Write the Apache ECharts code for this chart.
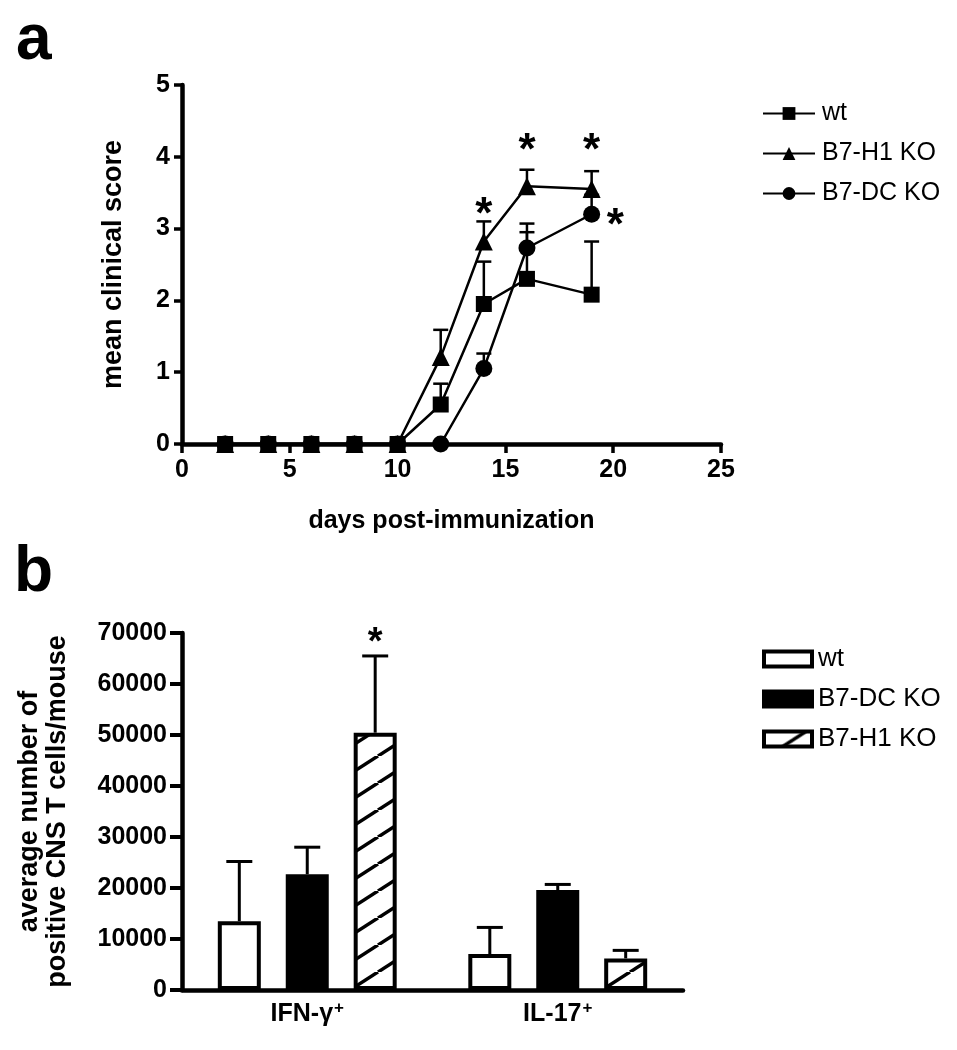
<!DOCTYPE html>
<html><head><meta charset="utf-8">
<script src="https://cdn.jsdelivr.net/npm/echarts@6/dist/echarts.min.js"></script>
<style>html,body{margin:0;padding:0;background:#fff}#c{width:957px;height:1050px}</style>
</head><body><div id="c"></div>
<script>
// ---------- Panel a data ----------
const days = [2, 4, 6, 8, 10, 12, 14, 16, 19];
const wtScore = [0, 0, 0, 0, 0, 0.55, 1.95, 2.30, 2.08];
const wtScoreUpper = [null, null, null, null, null, 0.84, 2.54, 2.95, 2.82];
const h1Score = [0, 0, 0, 0, 0, 1.21, 2.82, 3.59, 3.55];
const h1ScoreUpper = [null, null, null, null, null, 1.59, 3.10, 3.82, 3.80];
const dcScore = [0, 0, 0, 0, 0, 0, 1.05, 2.73, 3.20];
const dcScoreUpper = [null, null, null, null, null, null, 1.26, 3.07, 3.47];
const scoreSigX = [14, 16, 19, 20.1];
const scoreSigY = [3.32, 4.21, 4.21, 3.16];
const daysMin = 0, daysMax = 25, daysStep = 5;
const scoreMin = 0, scoreMax = 5, scoreStep = 1;

// ---------- Panel b data ----------
const cellCats = ['IFN-γ+', 'IL-17+'];
const wtCells = [13500, 7050];
const wtCellsUpper = [25200, 12270];
const dcCells = [22700, 19600];
const dcCellsUpper = [28000, 20700];
const h1Cells = [50450, 6200];
const h1CellsUpper = [65500, 7770];
const cellSigCat = [0];
const cellSigBar = [2];
const cellSigY = [69700];
const cellsMin = 0, cellsMax = 70000, cellsStep = 10000;

// ---------- styles ----------
const FONT = 'Liberation Sans, Arial, Helvetica, sans-serif';
const BAR_W = 43, BAR_GAP = 0.58;

function hatchCanvas() {
  const w = 42, h = 27;
  const cv = document.createElement('canvas');
  cv.width = w; cv.height = h;
  const g = cv.getContext('2d');
  g.fillStyle = '#fff'; g.fillRect(0, 0, w, h);
  g.strokeStyle = '#000'; g.lineWidth = 3.5;
  for (let k = -1; k <= 1; k++) {
    g.beginPath(); g.moveTo(k * w, h); g.lineTo(k * w + w, 0); g.stroke();
  }
  return cv;
}
const hatch = { image: hatchCanvas(), repeat: 'repeat' };

const zipPts = (xs, ys) => xs.map((x, i) => [x, ys[i]]);
const errPts = (xs, ys, ups) => xs.map((x, i) => ups[i] == null ? null : [x, ys[i], ups[i]]).filter(d => d);

function lineErr(params, api) {
  const c = api.coord([api.value(0), api.value(1)]);
  const t = api.coord([api.value(0), api.value(2)]);
  const hw = 7.5;
  return { type: 'group', children: [
    { type: 'line', shape: { x1: c[0], y1: c[1], x2: t[0], y2: t[1] }, style: { stroke: '#000', lineWidth: 2.5 } },
    { type: 'line', shape: { x1: t[0] - hw, y1: t[1], x2: t[0] + hw, y2: t[1] }, style: { stroke: '#000', lineWidth: 2.5 } }
  ]};
}
function barErrFactory(barIdx) {
  return function (params, api) {
    const off = (barIdx - 1) * BAR_W * (1 + BAR_GAP);
    const c = api.coord([api.value(0), api.value(1)]);
    const t = api.coord([api.value(0), api.value(2)]);
    const x = c[0] + off, hw = 13;
    return { type: 'group', children: [
      { type: 'line', shape: { x1: x, y1: c[1], x2: x, y2: t[1] }, style: { stroke: '#000', lineWidth: 3 } },
      { type: 'line', shape: { x1: x - hw, y1: t[1], x2: x + hw, y2: t[1] }, style: { stroke: '#000', lineWidth: 3 } }
    ]};
  };
}
function starA(params, api) {
  const p = api.coord([api.value(0), api.value(1)]);
  const fs = 44;
  return { type: 'text', x: p[0], y: p[1] + 0.23 * fs, style: { text: '*', font: 'bold ' + fs + 'px ' + FONT, fill: '#000', align: 'center', verticalAlign: 'middle' } };
}
function starB(params, api) {
  const p = api.coord([api.value(0), api.value(2)]);
  const off = (api.value(1) - 1) * BAR_W * (1 + BAR_GAP);
  const fs = 38;
  return { type: 'text', x: p[0] + off, y: p[1] + 0.23 * fs, style: { text: '*', font: 'bold ' + fs + 'px ' + FONT, fill: '#000', align: 'center', verticalAlign: 'middle' } };
}

const axisLabelStyle = { color: '#000', fontFamily: FONT, fontWeight: 'bold', fontSize: 25 };
const xNameStyle = { color: '#000', fontFamily: FONT, fontWeight: 'bold', fontSize: 25 };
const yNameStyle = { color: '#000', fontFamily: FONT, fontWeight: 'bold', fontSize: 27 };
const axisLine = { show: true, lineStyle: { color: '#000', width: 4.5 } };

const chart = echarts.init(document.getElementById('c'), null, { renderer: 'canvas' });
chart.setOption({
  backgroundColor: '#fff',
  animation: false,
  graphic: [
    { type: 'text', left: 16, top: 9, style: { text: 'a', font: 'bold 64px ' + FONT, fill: '#000' } },
    { type: 'text', left: 14, top: 541, style: { text: 'b', font: 'bold 64px ' + FONT, fill: '#000' } }
  ],
  legend: [
    {
      data: ['wt', 'B7-H1 KO', 'B7-DC KO'],
      left: 757, top: 96, orient: 'vertical', itemGap: 15,
      itemWidth: 52, itemHeight: 16,
      textStyle: { color: '#000', fontFamily: FONT, fontSize: 25, padding: [0, 0, 0, 2] },
      selectedMode: false
    },
    {
      data: ['wt (b)', 'B7-DC KO (b)', 'B7-H1 KO (b)'],
      formatter: n => n.replace(' (b)', ''),
      icon: 'rect',
      left: 757, top: 641, orient: 'vertical', itemGap: 14,
      itemWidth: 48, itemHeight: 15,
      itemStyle: { borderColor: '#000', borderWidth: 4 },
      textStyle: { color: '#000', fontFamily: FONT, fontSize: 26, padding: [0, 0, 0, 1] },
      selectedMode: false
    }
  ],
  grid: [
    { left: 182, top: 85, width: 539, height: 359 },
    { left: 182, top: 633, width: 501, height: 357 }
  ],
  xAxis: [
    {
      gridIndex: 0, type: 'value', min: daysMin, max: daysMax, interval: daysStep,
      name: 'days post-immunization', nameLocation: 'middle', nameGap: 65, nameTextStyle: xNameStyle,
      axisLine: axisLine, axisTick: { show: true, length: 9, lineStyle: { color: '#000', width: 3.5 } },
      axisLabel: Object.assign({ margin: 14 }, axisLabelStyle), splitLine: { show: false }
    },
    {
      gridIndex: 1, type: 'category', data: cellCats,
      axisLine: axisLine, axisTick: { show: false },
      axisLabel: Object.assign({
        margin: 10,
        formatter: v => '{m|' + v.slice(0, -1) + '}{s|' + v.slice(-1) + '}',
        rich: {
          m: { color: '#000', fontFamily: FONT, fontWeight: 'bold', fontSize: 25, lineHeight: 28 },
          s: { color: '#000', fontFamily: FONT, fontWeight: 'bold', fontSize: 17, lineHeight: 28, verticalAlign: 'top', padding: [0, 0, 14, 1] }
        }
      }, axisLabelStyle), splitLine: { show: false }
    }
  ],
  yAxis: [
    {
      gridIndex: 0, type: 'value', min: scoreMin, max: scoreMax, interval: scoreStep,
      name: 'mean clinical score', nameLocation: 'middle', nameGap: 55, nameTextStyle: yNameStyle,
      axisLine: axisLine, axisTick: { show: true, length: 8, lineStyle: { color: '#000', width: 3.5 } },
      axisLabel: Object.assign({ margin: 12 }, axisLabelStyle), splitLine: { show: false }
    },
    {
      gridIndex: 1, type: 'value', min: cellsMin, max: cellsMax, interval: cellsStep,
      name: 'average number of\npositive CNS T cells/mouse', nameLocation: 'middle', nameGap: 110,
      nameTextStyle: Object.assign({ lineHeight: 28 }, yNameStyle),
      axisLine: axisLine, axisTick: { show: true, length: 12, lineStyle: { color: '#000', width: 4 } },
      axisLabel: Object.assign({ margin: 15, formatter: v => String(v) }, axisLabelStyle), splitLine: { show: false }
    }
  ],
  series: [
    // error bars panel a (drawn under markers)
    { type: 'custom', xAxisIndex: 0, yAxisIndex: 0, z: 1, renderItem: lineErr, data: errPts(days, wtScore, wtScoreUpper), encode: { x: 0, y: [1, 2] } },
    { type: 'custom', xAxisIndex: 0, yAxisIndex: 0, z: 1, renderItem: lineErr, data: errPts(days, h1Score, h1ScoreUpper), encode: { x: 0, y: [1, 2] } },
    { type: 'custom', xAxisIndex: 0, yAxisIndex: 0, z: 1, renderItem: lineErr, data: errPts(days, dcScore, dcScoreUpper), encode: { x: 0, y: [1, 2] } },
    { name: 'B7-DC KO', type: 'line', xAxisIndex: 0, yAxisIndex: 0, z: 3, data: zipPts(days, dcScore),
      symbol: 'circle', symbolSize: 17, showAllSymbol: true,
      lineStyle: { color: '#000', width: 2.5 }, itemStyle: { color: '#000' } },
    { name: 'B7-H1 KO', type: 'line', xAxisIndex: 0, yAxisIndex: 0, z: 4, data: zipPts(days, h1Score),
      symbol: 'triangle', symbolSize: 18, showAllSymbol: true,
      lineStyle: { color: '#000', width: 2.5 }, itemStyle: { color: '#000' } },
    { name: 'wt', type: 'line', xAxisIndex: 0, yAxisIndex: 0, z: 5, data: zipPts(days, wtScore),
      symbol: 'rect', symbolSize: 16, showAllSymbol: true,
      lineStyle: { color: '#000', width: 2.5 }, itemStyle: { color: '#000' } },
    { type: 'custom', xAxisIndex: 0, yAxisIndex: 0, z: 6, renderItem: starA, data: zipPts(scoreSigX, scoreSigY), encode: { x: 0, y: 1 } },

    // panel b bars
    { name: 'wt (b)', type: 'bar', xAxisIndex: 1, yAxisIndex: 1, data: wtCells, barWidth: BAR_W, barGap: (BAR_GAP * 100) + '%',
      itemStyle: { color: '#fff', borderColor: '#000', borderWidth: 4 } },
    { name: 'B7-DC KO (b)', type: 'bar', xAxisIndex: 1, yAxisIndex: 1, data: dcCells, barWidth: BAR_W, barGap: (BAR_GAP * 100) + '%',
      itemStyle: { color: '#000', borderColor: '#000', borderWidth: 4 } },
    { name: 'B7-H1 KO (b)', type: 'bar', xAxisIndex: 1, yAxisIndex: 1, data: h1Cells, barWidth: BAR_W, barGap: (BAR_GAP * 100) + '%',
      itemStyle: { color: hatch, borderColor: '#000', borderWidth: 4 } },
    { type: 'custom', xAxisIndex: 1, yAxisIndex: 1, z: 3, renderItem: barErrFactory(0), data: cellCats.map((c, i) => [i, wtCells[i], wtCellsUpper[i]]), encode: { x: 0, y: [1, 2] } },
    { type: 'custom', xAxisIndex: 1, yAxisIndex: 1, z: 3, renderItem: barErrFactory(1), data: cellCats.map((c, i) => [i, dcCells[i], dcCellsUpper[i]]), encode: { x: 0, y: [1, 2] } },
    { type: 'custom', xAxisIndex: 1, yAxisIndex: 1, z: 3, renderItem: barErrFactory(2), data: cellCats.map((c, i) => [i, h1Cells[i], h1CellsUpper[i]]), encode: { x: 0, y: [1, 2] } },
    { type: 'custom', xAxisIndex: 1, yAxisIndex: 1, z: 4, renderItem: starB, data: cellSigCat.map((c, i) => [c, cellSigBar[i], cellSigY[i]]), encode: { x: 0, y: 2 } }
  ]
});
</script>
</body></html>
